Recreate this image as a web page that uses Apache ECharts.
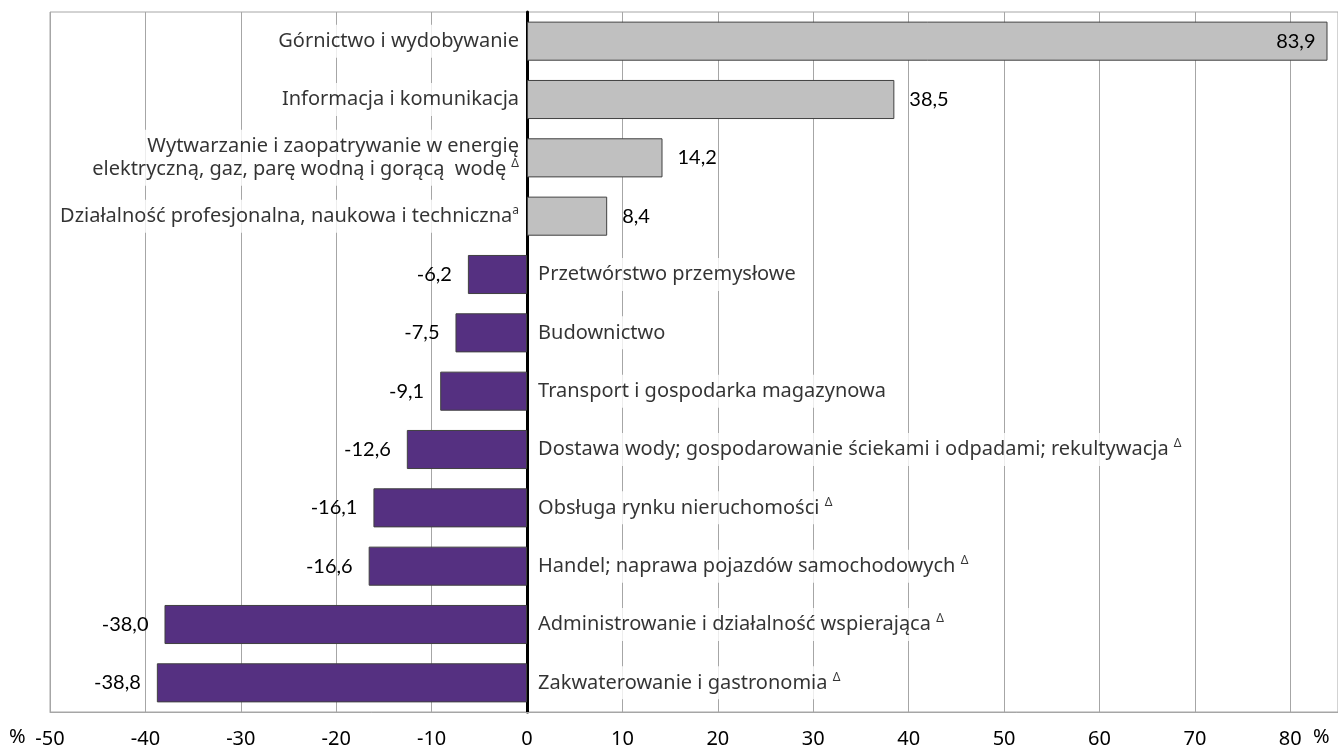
<!DOCTYPE html>
<html>
<head>
<meta charset="utf-8">
<script src="https://cdn.jsdelivr.net/npm/echarts@6/dist/echarts.min.js"></script>
<style>
html,body{margin:0;padding:0;background:#fff;}
#chart{width:1338px;height:749px;}
</style>
</head>
<body>
<div id="chart"></div>
<script>
const categories = [
  'Górnictwo i wydobywanie',
  'Informacja i komunikacja',
  'Wytwarzanie i zaopatrywanie w energię\nelektryczną, gaz, parę wodną i gorącą  wodę',
  'Działalność profesjonalna, naukowa i techniczna',
  'Przetwórstwo przemysłowe',
  'Budownictwo',
  'Transport i gospodarka magazynowa',
  'Dostawa wody; gospodarowanie ściekami i odpadami; rekultywacja',
  'Obsługa rynku nieruchomości',
  'Handel; naprawa pojazdów samochodowych',
  'Administrowanie i działalność wspierająca',
  'Zakwaterowanie i gastronomia'
];
const marks = ['', '', ' Δ', 'a', '', '', '', ' Δ', ' Δ', ' Δ', ' Δ', ' Δ'];
const values = [83.9, 38.5, 14.2, 8.4, -6.2, -7.5, -9.1, -12.6, -16.1, -16.6, -38.0, -38.8];
const xTicks = { min: -50, max: 85, interval: 10 };

const fmt = v => v.toFixed(1).replace('.', ',');
const catFont = 'Noto Sans';
const valFont = 'Lato';

const barData = values.map((v, i) => {
  let pos, dist;
  if (i === 0) { pos = 'insideRight'; dist = 12; }
  else if (v >= 0) { pos = 'right'; dist = 15; }
  else { pos = 'left'; dist = 16; }
  return {
    value: v,
    itemStyle: { color: v >= 0 ? '#c0c0c0' : '#553081' },
    label: { position: pos, distance: dist }
  };
});

const nameData = categories.map((c, i) => {
  const pos = values[i] >= 0 ? 'left' : 'right';
  const lines = c.split('\n');
  const txt = lines.map((l, k) => {
    let s = '{n|' + l + '}';
    if (k === lines.length - 1 && marks[i]) {
      const m = marks[i];
      if (m.startsWith(' ')) s += '{n| }{s|' + m.trim() + '}';
      else s += '{s|' + m + '}';
    }
    return s;
  }).join('\n');
  return {
    value: [0, i],
    label: {
      position: pos,
      distance: values[i] >= 0 ? 5 : 8,
      formatter: txt
    }
  };
});

const chart = echarts.init(document.getElementById('chart'));
chart.setOption({
  animation: false,
  grid: { left: 50, top: 12, width: 1292, height: 701, show: true, borderColor: '#a6a6a6', borderWidth: 1 },
  xAxis: {
    type: 'value', min: xTicks.min, max: xTicks.max, interval: xTicks.interval,
    axisLine: { show: true, lineStyle: { color: '#a6a6a6', width: 1 } },
    axisTick: { show: false },
    splitLine: { show: true, lineStyle: { color: '#a6a6a6', width: 1 } },
    axisLabel: { color: '#000', fontSize: 20, fontFamily: catFont, margin: 17, showMaxLabel: false }
  },
  yAxis: {
    type: 'category', inverse: true, data: categories,
    axisLine: { show: true, onZero: true, lineStyle: { color: '#000', width: 3 } },
    axisTick: { show: false },
    axisLabel: { show: false },
    splitLine: { show: false }
  },
  series: [
    {
      type: 'bar', data: barData, barCategoryGap: '33%',
      itemStyle: { borderColor: '#404040', borderWidth: 1 },
      label: { show: true, color: '#000', fontSize: 20, fontFamily: valFont, formatter: p => fmt(p.value) },
      z: 2
    },
    {
      type: 'scatter', data: nameData, symbolSize: 0, silent: true, z: 3,
      label: {
        show: true, color: '#000', backgroundColor: '#fff', padding: [5, 3],
        rich: {
          n: { fontSize: 20, fontFamily: catFont, color: '#000', lineHeight: 23 },
          s: { fontSize: 12, fontFamily: catFont, color: '#000', verticalAlign: 'top', lineHeight: 12, padding: [0, 0, 6, 0] }
        }
      }
    }
  ],
  graphic: [
    { type: 'text', left: 9, top: 727, style: { text: '%', fontSize: 20, fontFamily: catFont, fill: '#000' } },
    { type: 'text', left: 1313, top: 727, style: { text: '%', fontSize: 20, fontFamily: catFont, fill: '#000' } }
  ]
});
</script>
</body>
</html>
